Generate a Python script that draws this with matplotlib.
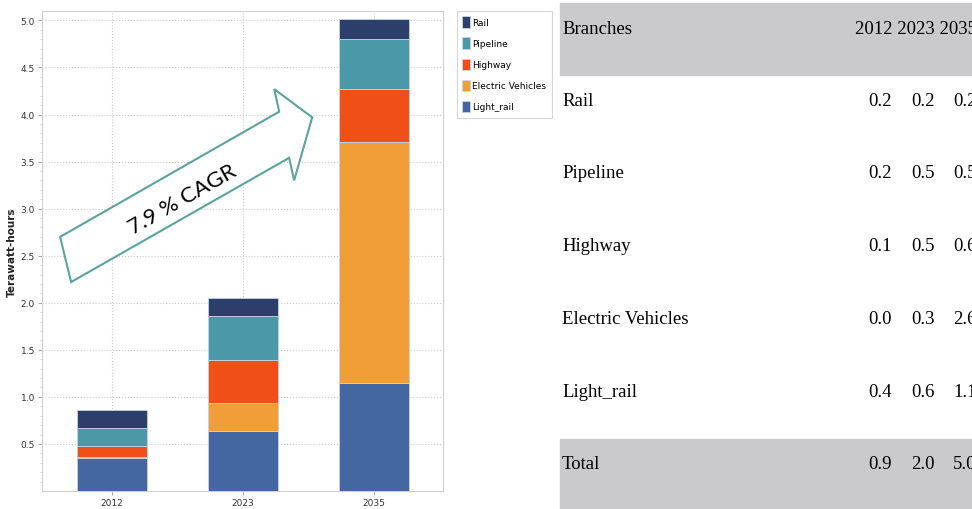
import numpy as np
import matplotlib
matplotlib.use("Agg")
import matplotlib.pyplot as plt
from matplotlib.patches import Polygon, Rectangle

years = ['2012', '2023', '2035']
series = ['Light_rail', 'Electric Vehicles', 'Highway', 'Pipeline', 'Rail']
light_rail = [0.35, 0.64, 1.15]
electric = [0.01, 0.29, 2.56]
highway = [0.12, 0.46, 0.56]
pipeline = [0.19, 0.47, 0.53]
rail = [0.19, 0.19, 0.22]
colors = ['#4466a1', '#f29e38', '#f04f17', '#4b98a8', '#2c3f6b']

# table on the right
tab_rows = ['Rail', 'Pipeline', 'Highway', 'Electric Vehicles', 'Light_rail']
tab_vals = [['0.2', '0.2', '0.2'],
            ['0.2', '0.5', '0.5'],
            ['0.1', '0.5', '0.6'],
            ['0.0', '0.3', '2.6'],
            ['0.4', '0.6', '1.1']]
tab_total = ['0.9', '2.0', '5.0']

fig = plt.figure(figsize=(9.72, 5.10), dpi=100)
ax = fig.add_axes([42/972, 18/510, 401/972, 480/510])

x = np.arange(len(years))
bottom = np.zeros(len(years))
for name, vals, c in zip(series, [light_rail, electric, highway, pipeline, rail], colors):
    ax.bar(x, vals, 0.53, bottom=bottom, color=c, label=name,
           edgecolor='#c9d2e3', linewidth=0.6, zorder=3)
    bottom += np.array(vals)

ax.set_xlim(-0.535, 2.525)
ax.set_ylim(0, 5.1)
ax.set_xticks(x)
ax.set_xticklabels(years, fontsize=6.5, color='#333333')
ax.set_yticks(np.arange(0.5, 5.01, 0.5))
ax.set_yticklabels([f'{v:.1f}' for v in np.arange(0.5, 5.01, 0.5)],
                   fontsize=6.5, color='#333333')
ax.set_yticks(np.arange(0.1, 5.1, 0.1), minor=True)
ax.tick_params(axis='both', length=3, color='#aaaaaa', pad=2)
ax.tick_params(axis='y', which='minor', length=1.5, color='#cccccc')
ax.grid(True, linestyle=':', color='#cccccc', linewidth=0.8, zorder=0)
for s in ax.spines.values():
    s.set_color('#d0d0d0')
ax.set_ylabel('Terawatt-hours', fontsize=7.5, color='#222222',
              fontweight='semibold')
ax.yaxis.set_label_coords(-0.062, 0.5)

h, l = ax.get_legend_handles_labels()
leg = ax.legend(h[::-1], l[::-1], loc='upper left', bbox_to_anchor=(1.035, 1.0),
                fontsize=6.5, frameon=True, fancybox=False, handlelength=0.8,
                handleheight=1.6, handletextpad=0.3, labelspacing=1.05,
                borderpad=0.6, borderaxespad=0)
leg.get_frame().set_edgecolor('#cccccc')
leg.get_frame().set_linewidth(0.8)

# growth arrow
arrow_pts = [(-0.397, 2.70), (1.275, 4.03), (1.237, 4.27), (1.527, 3.97),
             (1.389, 3.30), (1.351, 3.54), (-0.313, 2.22)]
ax.add_patch(Polygon(arrow_pts, closed=True, facecolor='white',
                     edgecolor='#5aa39e', linewidth=1.5, zorder=4))
ax.text(0.535, 3.10, '7.9 % CAGR', rotation=29.7, ha='center', va='center',
        fontsize=16, family='Lato', color='black', zorder=5,
        rotation_mode='anchor')

# table
tx = fig.add_axes([0, 0, 1, 1], facecolor='none')
tx.set_xlim(0, 972)
tx.set_ylim(510, 0)
tx.axis('off')
tx.add_patch(Rectangle((560, 4), 412, 72, color='#cacacc'))
tx.add_patch(Rectangle((560, 440), 412, 70, color='#cacacc'))
font = dict(family='Liberation Serif', fontsize=13.5, color='black', va='center')
tx.text(562, 29, 'Branches', ha='left', **font)
tx.text(855, 29, ' '.join(years), ha='left', **font)
col_x = [880, 923, 965]
for i, (name, vals) in enumerate(zip(tab_rows, tab_vals)):
    y = 101 + i * 73
    tx.text(562, y, name, ha='left', **font)
    for cx, v in zip(col_x, vals):
        tx.text(cx, y, v, ha='center', **font)
tx.text(562, 465, 'Total', ha='left', **font)
for cx, v in zip(col_x, tab_total):
    tx.text(cx, 465, v, ha='center', **font)

fig.savefig('out.png', dpi=100)
